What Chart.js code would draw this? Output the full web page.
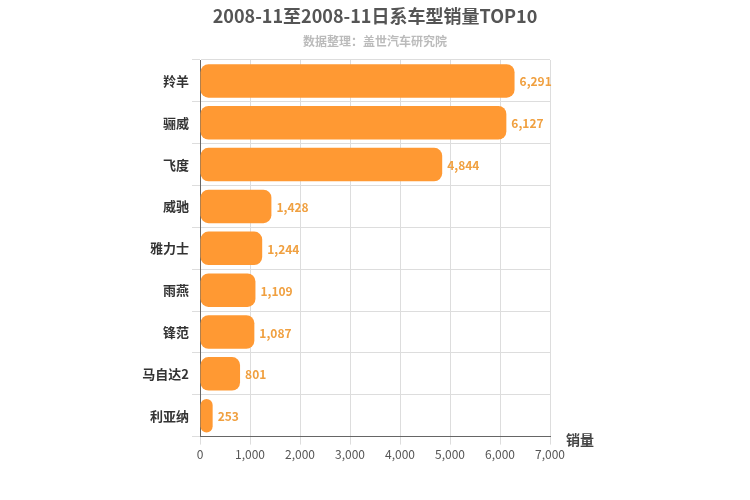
<!DOCTYPE html>
<html>
<head>
<meta charset="utf-8">
<script src="https://cdn.jsdelivr.net/npm/chart.js@4"></script>
<style>
  body { margin: 0; background: #fff; }
  #wrap { width: 750px; height: 500px; }
</style>
</head>
<body>
<div id="wrap"><canvas id="c" width="750" height="500"></canvas></div>
<script>
const categories = ["羚羊", "骊威", "飞度", "威驰", "雅力士", "雨燕", "锋范", "马自达2", "利亚纳"];
const sales = [6291, 6127, 4844, 1428, 1244, 1109, 1087, 801, 253];
const FONT = "'Noto Sans CJK SC', 'DejaVu Sans', sans-serif";

// 标题、副标题和坐标轴名称
const textPlugin = {
  id: "texts",
  afterDraw(chart) {
    const ctx = chart.ctx;
    ctx.save();
    ctx.textAlign = "center";
    ctx.textBaseline = "middle";
    ctx.fillStyle = "#555";
    ctx.font = "bold 18px " + FONT;
    ctx.fillText("2008-11至2008-11日系车型销量TOP10", 375, 16);
    ctx.fillStyle = "#bbb";
    ctx.font = "bold 12px " + FONT;
    ctx.fillText("数据整理：盖世汽车研究院", 375, 41);
    ctx.fillStyle = "#444";
    ctx.font = "bold 14px " + FONT;
    ctx.fillText("销量", 580, 440);
    // 数值标签
    const meta = chart.getDatasetMeta(0);
    ctx.fillStyle = "#f0a040";
    ctx.font = "bold 12px " + FONT;
    ctx.textAlign = "left";
    meta.data.forEach((bar, i) => {
      ctx.fillText(sales[i].toLocaleString("en-US"), bar.x + 5, bar.y + 1);
    });
    ctx.restore();
  }
};

new Chart(document.getElementById("c"), {
  type: "bar",
  data: {
    labels: categories,
    datasets: [{
      data: sales,
      backgroundColor: "#ff9933",
      borderRadius: 8,
      borderSkipped: false,
      categoryPercentage: 0.8,
      barPercentage: 1
    }]
  },
  options: {
    indexAxis: "y",
    responsive: false,
    animation: false,
    layout: { padding: { top: 60, right: 200, bottom: 35, left: 0 } },
    plugins: { legend: { display: false }, tooltip: { enabled: false } },
    scales: {
      x: {
        min: 0, max: 7000,
        ticks: { stepSize: 1000, color: "#555", font: { family: FONT, size: 12 } },
        grid: { color: "#ddd" },
        border: { color: "#666" }
      },
      y: {
        afterFit(axis) { axis.width = 200; },
        ticks: { color: "#333", font: { family: FONT, size: 13, weight: "bold" } },
        grid: { color: "#ddd", offset: true },
        border: { color: "#666" }
      }
    }
  },
  plugins: [textPlugin]
});
</script>
</body>
</html>
